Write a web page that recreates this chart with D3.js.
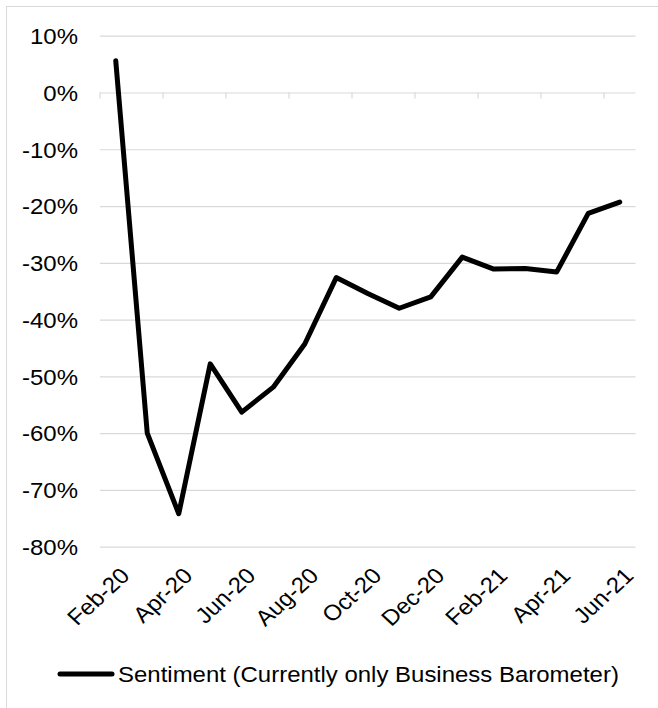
<!DOCTYPE html>
<html>
<head>
<meta charset="utf-8">
<script src="https://cdn.jsdelivr.net/npm/d3@7"></script>
<style>
  body { margin: 0; background: #fff; }
  text { font-family: 'Liberation Sans', Arial, sans-serif; fill: #000; }
</style>
</head>
<body>
<div class="chart"></div>
<script>
'use strict'

const months = [ 'Feb-20', 'Mar-20', 'Apr-20', 'May-20', 'Jun-20', 'Jul-20', 'Aug-20', 'Sep-20',
  'Oct-20', 'Nov-20', 'Dec-20', 'Jan-21', 'Feb-21', 'Mar-21', 'Apr-21', 'May-21', 'Jun-21' ]
const sentiment = [ 0.056, -0.600, -0.742, -0.478, -0.563, -0.519, -0.443, -0.326,
  -0.354, -0.380, -0.360, -0.290, -0.311, -0.310, -0.316, -0.213, -0.193 ]
const yTicks = [ 0.1, 0, -0.1, -0.2, -0.3, -0.4, -0.5, -0.6, -0.7, -0.8 ]
const legendLabel = 'Sentiment (Currently only Business Barometer)'

const width = 658
const height = 708
const fontSize = 22
// the reference text is a bit wider than Liberation Sans at the same height
const stretch = 'scale(1.09,1)'

const x = d3.scaleBand()
    .domain(months)
    .range([ 100, 635.5 ])
const y = d3.scaleLinear()
    .domain([ -0.8, 0.1 ])
    .range([ 546.7, 35.7 ])

const svg = d3.select('.chart').append('svg')
    .attr('width', width)
    .attr('height', height)

// outer chart frame, cropped at right and bottom
svg.append('rect')
    .attr('x', 6.5)
    .attr('y', 6.5)
    .attr('width', 800)
    .attr('height', 800)
    .attr('fill', 'none')
    .attr('stroke', '#d9d9d9')
    .attr('stroke-width', 1)

// gridlines
const yAxis = svg.append('g')
    .attr('transform', 'translate(100,0)')
    .call(d3.axisLeft(y)
      .tickValues(yTicks)
      .tickSize(-535.5)
      .tickFormat(''))
yAxis.select('.domain').remove()
yAxis.selectAll('.tick line')
    .attr('stroke', '#d9d9d9')
    .attr('stroke-width', 1.2)

const pct = d3.format('.0%')
svg.append('g')
    .selectAll('text')
    .data(yTicks)
  .enter().append('text')
    .attr('transform', d => 'translate(78,' + y(d) + ') ' + stretch)
    .attr('dy', '0.375em')
    .style('text-anchor', 'end')
    .style('font-size', fontSize + 'px')
    .text(d => pct(d).replace('\u2212', '-'))

// category axis sits on 0%, ticks at every second boundary
const boundaries = d3.range(0, months.length + 1, 2)
svg.append('g')
    .selectAll('line')
    .data(boundaries)
  .enter().append('line')
    .attr('x1', i => x.range()[0] + i * x.step())
    .attr('x2', i => x.range()[0] + i * x.step())
    .attr('y1', y(0))
    .attr('y2', y(0) + 6)
    .attr('stroke', '#d9d9d9')
    .attr('stroke-width', 1.2)

svg.append('g')
    .selectAll('text')
    .data(months.filter((m, i) => i % 2 === 0))
  .enter().append('text')
    .attr('transform', d => 'translate(' + (x(d) + x.bandwidth() / 2 + 3) + ',566) ' + stretch + ' rotate(-45)')
    .attr('dy', '0.72em')
    .style('text-anchor', 'end')
    .style('font-size', fontSize + 'px')
    .text(d => d)

const line = d3.line()
    .x((d, i) => x(months[i]) + x.bandwidth() / 2)
    .y(d => y(d))

svg.append('path')
    .datum(sentiment)
    .attr('d', line)
    .attr('fill', 'none')
    .attr('stroke', '#000')
    .attr('stroke-width', 5)
    .attr('stroke-linejoin', 'round')
    .attr('stroke-linecap', 'round')

// legend
const legend = svg.append('g')
    .attr('transform', 'translate(58,674)')
legend.append('line')
    .attr('x1', 2)
    .attr('x2', 54)
    .attr('stroke', '#000')
    .attr('stroke-width', 5)
    .attr('stroke-linecap', 'round')
legend.append('text')
    .attr('transform', 'translate(60,0) ' + stretch)
    .attr('dy', '0.36em')
    .style('font-size', fontSize + 'px')
    .text(legendLabel)
</script>
</body>
</html>
